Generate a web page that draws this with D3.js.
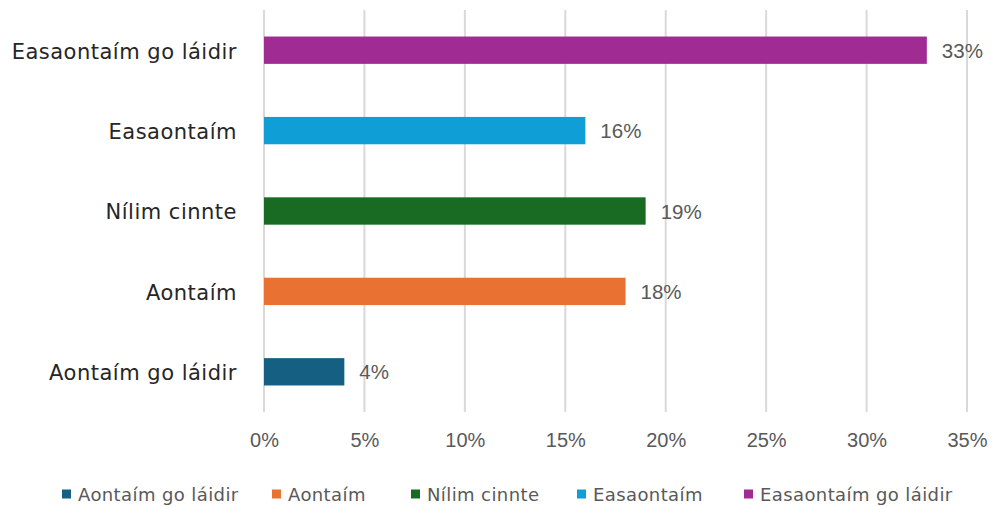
<!DOCTYPE html>
<html>
<head>
<meta charset="utf-8">
<script src="https://cdn.jsdelivr.net/npm/d3@7"></script>
<style>
  body { margin: 0; background: #fff; }
  svg { display: block; }
</style>
</head>
<body>
<svg id="chart"></svg>
<script>
// data, bottom to top as in the chart
const categories = ['Aontaím go láidir', 'Aontaím', 'Nílim cinnte', 'Easaontaím', 'Easaontaím go láidir'];
const values = [4, 18, 19, 16, 33];
const colors = ['#156082', '#E97132', '#196B24', '#0F9ED5', '#A02B93'];
const ticks = [0, 5, 10, 15, 20, 25, 30, 35];

const width = 992, height = 507;
const margin = { top: 10, right: 25, bottom: 95, left: 264 };

const svg = d3.select('#chart')
  .attr('width', width)
  .attr('height', height);

const x = d3.scaleLinear()
  .domain([0, 35])
  .range([margin.left, width - margin.right]);

const y = d3.scaleBand()
  .domain(categories.slice().reverse())
  .range([margin.top, height - margin.bottom])
  .paddingInner(0.66)
  .paddingOuter(0.33);

// gridlines
svg.append('g')
  .selectAll('line')
  .data(ticks)
  .enter().append('line')
  .attr('x1', d => x(d))
  .attr('x2', d => x(d))
  .attr('y1', margin.top)
  .attr('y2', height - margin.bottom)
  .attr('stroke', '#d9d9d9')
  .attr('stroke-width', 2);

// x axis labels
const xAxis = svg.append('g')
  .attr('transform', `translate(0,${height - margin.bottom})`)
  .call(d3.axisBottom(x).tickValues(ticks).tickFormat(d => d + '%').tickSize(0).tickPadding(21));
xAxis.select('.domain').remove();
xAxis.selectAll('text')
  .attr('fill', '#595959')
  .style('font-family', '"Liberation Sans", Arial, sans-serif')
  .style('font-size', '20px');

// y axis labels
const yAxis = svg.append('g')
  .attr('transform', `translate(${margin.left},0)`)
  .call(d3.axisLeft(y).tickSize(0).tickPadding(27));
yAxis.select('.domain').remove();
yAxis.selectAll('text')
  .attr('fill', '#262626')
  .attr('dy', '0.4em')
  .style('font-family', '"DejaVu Sans", sans-serif')
  .style('font-size', '21px')
  .style('letter-spacing', '0.5px');

// bars
svg.selectAll('.bar')
  .data(categories)
  .enter().append('rect')
  .attr('class', 'bar')
  .attr('x', x(0))
  .attr('y', d => y(d))
  .attr('width', (d, i) => x(values[i]) - x(0))
  .attr('height', y.bandwidth())
  .attr('fill', (d, i) => colors[i]);

// value labels
svg.selectAll('.val')
  .data(categories)
  .enter().append('text')
  .attr('class', 'val')
  .attr('x', (d, i) => x(values[i]) + 15)
  .attr('y', d => y(d) + y.bandwidth() / 2)
  .attr('dy', '0.37em')
  .attr('fill', '#595959')
  .style('font-family', '"Liberation Sans", Arial, sans-serif')
  .style('font-size', '20.5px')
  .text((d, i) => values[i] + '%');

// legend
const legendX = [62, 272, 411, 577, 744];
const legend = svg.append('g');
categories.forEach((c, i) => {
  const g = legend.append('g').attr('transform', `translate(${legendX[i]},494)`);
  g.append('rect')
    .attr('x', 0).attr('y', -4.5)
    .attr('width', 9).attr('height', 9)
    .attr('fill', colors[i]);
  g.append('text')
    .attr('x', 16).attr('y', 0)
    .attr('dy', '0.37em')
    .attr('fill', '#595959')
    .style('font-family', '"DejaVu Sans", sans-serif')
    .style('font-size', '18px')
    .style('letter-spacing', '0.4px')
    .text(c);
});
</script>
</body>
</html>
